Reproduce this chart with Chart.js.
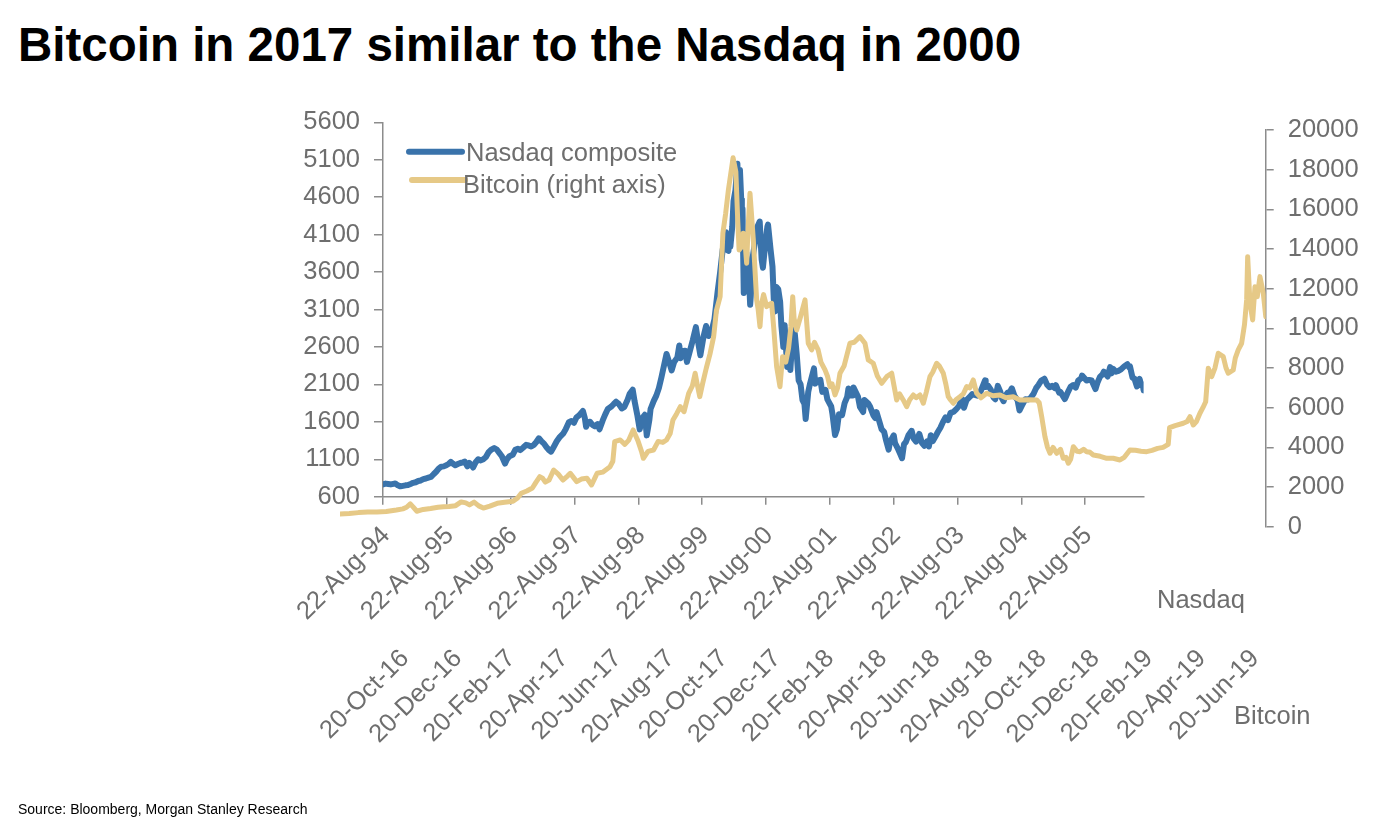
<!DOCTYPE html>
<html>
<head>
<meta charset="utf-8">
<script src="https://cdn.jsdelivr.net/npm/chart.js@4.4.1/dist/chart.umd.min.js"></script>
<style>
html,body{margin:0;padding:0;background:#fff;}
#wrap{position:relative;width:1400px;height:819px;overflow:hidden;font-family:"Liberation Sans",Arial,Helvetica,sans-serif;}
canvas{position:absolute;left:0;top:0;}
#title{position:absolute;left:18px;top:21px;font-weight:bold;font-size:47.5px;line-height:47.5px;color:#000;white-space:nowrap;}
.axlab{position:absolute;font-size:25.5px;line-height:25.5px;color:#6e6e6e;white-space:nowrap;}
#source{position:absolute;left:18px;top:802px;font-size:14px;line-height:14px;color:#000;white-space:nowrap;}
</style>
</head>
<body>
<div id="wrap">
  <div id="title">Bitcoin in 2017 similar to the Nasdaq in 2000</div>
  <canvas id="cNasdaq" width="1400" height="819" style="width:1400px;height:819px"></canvas>
  <canvas id="cBitcoin" width="1400" height="819" style="width:1400px;height:819px"></canvas>
  <div class="axlab" style="left:1157px;top:587px">Nasdaq</div>
  <div class="axlab" style="left:1234px;top:703px">Bitcoin</div>
  <div id="source">Source: Bloomberg, Morgan Stanley Research</div>
</div>
<script>
// ---------------- DATA ----------------
// Nasdaq composite: date as decimal year, index level
const nasdaqDates = [
1994.64,1994.68,1994.72,1994.76,1994.80,1994.83,1994.87,1994.91,1994.95,1994.99,
1995.03,1995.07,1995.11,1995.15,1995.19,1995.23,1995.27,1995.31,1995.35,1995.39,
1995.43,1995.47,1995.51,1995.55,1995.59,1995.63,1995.67,1995.70,1995.73,1995.77,
1995.81,1995.85,1995.89,1995.92,1995.96,1995.99,1996.03,1996.05,1996.09,1996.13,
1996.17,1996.21,1996.25,1996.29,1996.33,1996.38,1996.42,1996.46,1996.50,1996.55,
1996.58,1996.62,1996.67,1996.71,1996.75,1996.79,1996.84,1996.88,1996.92,1996.96,
1997.00,1997.04,1997.08,1997.12,1997.16,1997.20,1997.24,1997.27,1997.31,1997.36,
1997.41,1997.46,1997.50,1997.55,1997.59,1997.63,1997.67,1997.71,1997.77,1997.80,
1997.82,1997.85,1997.88,1997.92,1997.96,1998.00,1998.03,1998.08,1998.12,1998.16,
1998.21,1998.25,1998.29,1998.33,1998.38,1998.42,1998.47,1998.50,1998.55,1998.58,
1998.62,1998.66,1998.70,1998.74,1998.77,1998.81,1998.83,1998.88,1998.92,1998.96,
1999.00,1999.04,1999.08,1999.12,1999.16,1999.20,1999.25,1999.28,1999.30,1999.33,
1999.37,1999.40,1999.45,1999.49,1999.54,1999.58,1999.61,1999.66,1999.70,1999.74,
1999.78,1999.83,1999.88,1999.92,1999.96,2000.00,2000.01,2000.02,2000.05,2000.07,
2000.08,2000.11,2000.13,2000.16,2000.19,2000.21,2000.23,2000.25,2000.26,2000.27,
2000.29,2000.30,2000.33,2000.35,2000.37,2000.39,2000.41,2000.43,2000.46,2000.50,
2000.54,2000.57,2000.59,2000.63,2000.66,2000.67,2000.71,2000.74,2000.76,2000.78,
2000.80,2000.83,2000.86,2000.88,2000.91,2000.93,2000.97,2001.00,2001.02,2001.05,
2001.07,2001.09,2001.12,2001.15,2001.18,2001.21,2001.24,2001.26,2001.30,2001.33,
2001.39,2001.41,2001.44,2001.49,2001.52,2001.57,2001.60,2001.66,2001.68,2001.72,
2001.75,2001.78,2001.83,2001.87,2001.91,2001.93,2001.96,2002.00,2002.01,2002.08,
2002.11,2002.16,2002.18,2002.24,2002.27,2002.32,2002.35,2002.37,2002.41,2002.45,
2002.49,2002.52,2002.56,2002.58,2002.64,2002.66,2002.70,2002.74,2002.77,2002.80,
2002.83,2002.87,2002.92,2002.95,2002.99,2003.04,2003.08,2003.12,2003.16,2003.19,
2003.22,2003.25,2003.29,2003.33,2003.37,2003.41,2003.45,2003.49,2003.53,2003.58,
2003.62,2003.66,2003.71,2003.74,2003.78,2003.83,2003.87,2003.91,2003.95,2004.00,
2004.07,2004.08,2004.12,2004.16,2004.20,2004.23,2004.25,2004.27,2004.31,2004.33,
2004.36,2004.39,2004.42,2004.46,2004.49,2004.53,2004.58,2004.61,2004.66,2004.70,
2004.74,2004.78,2004.83,2004.87,2004.91,2004.95,2005.00,2005.04,2005.08,2005.12,
2005.16,2005.18,2005.23,2005.25,2005.32,2005.33,2005.37,2005.41,2005.45,2005.49,
2005.53,2005.58,2005.59,2005.66,2005.70,2005.74,2005.80,2005.83,2005.87,2005.91,
2005.93,2005.99,2006.03,2006.05,2006.08,2006.12,2006.16,2006.20,2006.25,2006.30,
2006.33,2006.34,2006.38,2006.41,2006.45,2006.47,2006.49,2006.52,2006.54,2006.554
];
const nasdaqValues = [
765,775,770,764,772,777,752,738,745,752,
756,770,785,793,810,817,835,843,855,865,
900,933,975,1001,1005,1020,1040,1065,1044,1020,
1036,1050,1059,1069,1005,1052,1020,990,1060,1100,
1085,1101,1130,1191,1225,1250,1230,1185,1140,1042,
1100,1141,1160,1226,1240,1222,1260,1293,1285,1270,
1291,1330,1380,1340,1309,1260,1222,1201,1261,1340,
1400,1442,1500,1594,1610,1587,1660,1686,1745,1650,
1535,1594,1601,1560,1540,1570,1500,1619,1700,1771,
1800,1835,1868,1840,1779,1800,1895,1970,2028,1872,
1700,1499,1650,1694,1419,1620,1771,1880,1950,2050,
2193,2350,2506,2400,2288,2400,2461,2620,2450,2543,
2550,2400,2560,2686,2865,2638,2490,2739,2880,2746,
2790,2966,3336,3600,3900,4069,4131,3901,3882,4100,
3940,4210,4550,4697,5048,4580,4964,4573,4223,4446,
3321,3800,3861,3500,3550,3164,3401,3800,3966,4200,
4274,3767,3658,4000,4206,4234,3900,3673,3240,3074,
3400,3370,3200,2875,2598,2889,2333,2471,2292,2700,
2859,2773,2500,2152,2100,1890,1840,1639,2000,2116,
2313,2110,2150,2161,2000,2027,1900,1805,1700,1423,
1499,1700,1690,1850,1931,2046,1950,1950,2059,1934,
1800,1731,1890,1845,1800,1688,1650,1730,1616,1500,
1463,1350,1229,1328,1420,1315,1250,1172,1114,1300,
1330,1420,1480,1380,1336,1438,1321,1280,1337,1271,
1421,1341,1400,1464,1520,1596,1660,1623,1720,1735,
1770,1810,1905,1787,1890,1932,1970,1960,1950,2003,
2153,2066,2080,2030,1930,1902,1994,2080,2000,1920,
1876,1950,1987,2000,2048,1950,1887,1752,1838,1900,
1897,1915,1975,2050,2096,2150,2175,2100,2062,2080,
2052,2090,1990,1999,1904,1922,2000,2068,2090,2057,
2150,2185,2218,2152,2160,2152,2038,2120,2200,2233,
2270,2205,2331,2247,2306,2270,2281,2300,2340,2370,
2323,2342,2190,2179,2072,2140,2172,2090,2100,2020
];
// Bitcoin: day number in the series (day 0 = first observation), USD price
const btcDays = [
0,10,20,30,40,50,61,68,72,76,79,83,90,98,106,112,118,125,131,136,
140,145,150,155,162,170,178,187,192,196,202,208,212,216,219,222,226,231,236,241,
246,249,253,256,261,267,272,276,278,284,292,295,297,303,308,312,317,322,326,328,
333,339,344,349,353,357,360,364,368,372,377,381,384,387,389,392,396,400,404,407,
411,414,417,420,425,428,430,431.5,434.3,436,438,439.7,441,443.3,446.9,450.5,452,454.1,455.9,458,
461.3,464,466.7,469,472.1,475.7,478.5,482,485,487.5,489.5,491,493.8,498,502.8,506.3,510,513,517,520,
524.4,527,529.8,532,535.2,538,540.6,545,551.4,556,562.2,567.6,571.2,576.6,581,585.7,591.1,596.5,601.9,605,
609,612.7,616,619.9,623,627.1,630.7,634,637.9,641,645.1,648,652.3,655,657.7,660,663.1,666,670.3,674,
677.6,681,684.7,688.4,693,699.2,706,713.6,720,728,735.2,744,753.3,756,758.7,762.2,765,767.7,771,774.9,
779,782,785,787.5,790,792.9,797,800.1,804,807.3,811,814.5,822,829,836,843.3,848,854.1,860,866,
872.2,878,884,890,895.5,897,903,911.8,916,919,922.6,926,929.8,933,936,938.8,942.5,946,949.6,955,
958,960.4,965.8,968,971.2,974.9,978,980.3,981.4,983.9,986.8,989.3,991.8,994.7,998.3,1001
];
const btcValues = [
640,660,710,740,745,770,842,900,980,1150,1000,780,870,920,980,1009,1020,1060,1250,1200,
1100,1240,1050,940,1040,1180,1230,1280,1450,1684,1800,1950,2250,2522,2450,2250,2350,2859,2650,2355,
2550,2693,2450,2269,2400,2441,2103,2500,2693,2750,3026,3300,4287,4372,4150,4350,4877,4350,3800,3449,
3800,3868,4300,4250,4372,4700,5381,5700,6052,5800,6727,7100,7736,7000,6556,7200,7988,8700,9582,10900,
11600,14800,15800,17000,18600,17900,15500,13954,14120,14800,14300,13283,14800,16813,14458,11433,11000,10086,11266,11700,
11095,11200,11266,10000,8069,7060,8573,8300,9000,10086,11599,10500,9920,10600,11433,9249,8911,9300,8911,8300,
7903,7600,7060,7200,6642,7000,7736,8100,9249,9300,9582,9249,8407,8240,7600,7232,7565,7736,6390,6700,
6390,6052,6400,6642,6500,6642,6223,6800,7565,7800,8240,8100,7736,7200,6556,6400,6223,6400,6556,6700,
7060,7000,7398,6727,6500,6727,6600,6642,6500,6550,6390,6400,6390,6250,5547,4539,4000,3702,4000,3702,
3900,3449,3500,3197,3400,4034,3800,3782,3900,3782,3750,3616,3550,3449,3450,3364,3500,3868,3850,3800,
3782,3850,3950,4000,4150,5000,5100,5214,5300,5547,5129,5300,5719,6000,6300,7988,7565,8000,8745,8573,
8000,7736,7902,8500,8911,9249,10200,11433,13616,11266,10424,12103,11600,12608,11770,10590
];

// Axis ticks
const nasdaqTickYears  = [1994.638,1995.638,1996.638,1997.638,1998.638,1999.638,2000.638,2001.638,2002.638,2003.638,2004.638,2005.638];
const nasdaqTickLabels = ['22-Aug-94','22-Aug-95','22-Aug-96','22-Aug-97','22-Aug-98','22-Aug-99','22-Aug-00','22-Aug-01','22-Aug-02','22-Aug-03','22-Aug-04','22-Aug-05'];
const nasdaqYTicks = [600,1100,1600,2100,2600,3100,3600,4100,4600,5100,5600];

const btcTickDays = [68.1,125.6,183.0,240.4,297.9,355.3,412.7,470.2,527.6,585.1,642.5,699.9,757.4,814.8,872.3,929.7,987.2];
const btcTickLabels = ['20-Oct-16','20-Dec-16','20-Feb-17','20-Apr-17','20-Jun-17','20-Aug-17','20-Oct-17','20-Dec-17','20-Feb-18','20-Apr-18','20-Jun-18','20-Aug-18','20-Oct-18','20-Dec-18','20-Feb-19','20-Apr-19','20-Jun-19'];
const btcYTicks = [0,2000,4000,6000,8000,10000,12000,14000,16000,18000,20000];

// ---------------- STYLE ----------------
const BLUE = '#3a73ab';
const TAN = '#e6c987';
const TEXT = '#6e6e6e';
const AXIS = '#8c8c8c';
const FONT = '"Liberation Sans", Arial, Helvetica, sans-serif';
const W = 1400, H = 819;

const legendEntry = {
  id: 'legendEntry',
  afterDraw(chart, args, o) {
    const ds = chart.data.datasets[0];
    const ctx = chart.ctx;
    ctx.save();
    ctx.strokeStyle = ds.borderColor;
    ctx.lineWidth = o.lineWidth;
    ctx.lineCap = 'round';
    ctx.beginPath();
    ctx.moveTo(o.x1, o.y);
    ctx.lineTo(o.x2, o.y);
    ctx.stroke();
    ctx.fillStyle = TEXT;
    ctx.font = '25.5px ' + FONT;
    ctx.textBaseline = 'alphabetic';
    ctx.textAlign = 'left';
    ctx.fillText(ds.label, o.textX, o.textY);
    ctx.restore();
  }
};

const tickFont = {family: FONT, size: 25.5};

// ---------------- NASDAQ CHART ----------------
new Chart(document.getElementById('cNasdaq'), {
  type: 'line',
  data: {
    datasets: [{
      label: 'Nasdaq composite',
      data: nasdaqDates.map((d, i) => ({x: d, y: nasdaqValues[i]})),
      borderColor: BLUE,
      borderWidth: 6,
      pointRadius: 0,
      tension: 0,
      borderJoinStyle: 'round',
      borderCapStyle: 'round'
    }]
  },
  options: {
    responsive: false,
    animation: false,
    devicePixelRatio: 1,
    layout: {padding: {left: 0, right: 256.4, top: 122.3, bottom: 0}},
    plugins: {
      legend: {display: false},
      tooltip: {enabled: false},
      legendEntry: {x1: 409, x2: 462, y: 151.7, lineWidth: 6, textX: 466, textY: 160.5}
    },
    scales: {
      x: {
        type: 'linear', position: 'bottom', bounds: 'data',
        min: 1994.638, max: 2006.554,
        afterBuildTicks: s => { s.ticks = nasdaqTickYears.map(v => ({value: v})); },
        afterFit: s => { s.height = H - 496.7; },
        ticks: {autoSkip: false, minRotation: 45, maxRotation: 45, padding: 16, labelOffset: 3, color: TEXT, font: tickFont,
                callback: (v, i) => nasdaqTickLabels[i]},
        grid: {drawOnChartArea: false, drawTicks: true, tickLength: 8, color: AXIS, lineWidth: 1.5},
        border: {display: true, color: AXIS, width: 1.5}
      },
      y: {
        type: 'linear', position: 'left', bounds: 'data',
        min: 600, max: 5600,
        afterBuildTicks: s => { s.ticks = nasdaqYTicks.map(v => ({value: v})); },
        afterFit: s => { s.width = 383; },
        ticks: {padding: 14, color: TEXT, font: tickFont, callback: v => String(v)},
        grid: {drawOnChartArea: false, drawTicks: true, tickLength: 9, color: AXIS, lineWidth: 1.5},
        border: {display: true, color: AXIS, width: 1.5}
      }
    }
  },
  plugins: [legendEntry]
});

// ---------------- BITCOIN CHART ----------------
new Chart(document.getElementById('cBitcoin'), {
  type: 'line',
  data: {
    datasets: [{
      label: 'Bitcoin (right axis)',
      data: btcDays.map((d, i) => ({x: d, y: btcValues[i]})),
      borderColor: TAN,
      borderWidth: 5,
      pointRadius: 0,
      tension: 0,
      borderJoinStyle: 'round',
      borderCapStyle: 'round'
    }]
  },
  options: {
    responsive: false,
    animation: false,
    devicePixelRatio: 1,
    layout: {padding: {left: 340, right: 0, top: 130, bottom: 0}},
    plugins: {
      legend: {display: false},
      tooltip: {enabled: false},
      legendEntry: {x1: 412, x2: 465, y: 180, lineWidth: 6, textX: 463, textY: 193.3}
    },
    scales: {
      x: {
        type: 'linear', position: 'bottom', bounds: 'data',
        min: 0, max: 1000.9,
        afterBuildTicks: s => { s.ticks = btcTickDays.map(v => ({value: v})); },
        afterFit: s => { s.height = H - 526.7; },
        ticks: {autoSkip: false, minRotation: 45, maxRotation: 45, padding: 117, labelOffset: 2, color: TEXT, font: tickFont,
                callback: (v, i) => btcTickLabels[i]},
        grid: {display: false, drawTicks: false, drawOnChartArea: false},
        border: {display: false}
      },
      y: {
        type: 'linear', position: 'right', bounds: 'data',
        min: 0, max: 20000,
        afterBuildTicks: s => { s.ticks = btcYTicks.map(v => ({value: v})); },
        afterFit: s => { s.width = W - 1265.7; },
        ticks: {padding: 14, color: TEXT, font: tickFont, callback: v => String(v)},
        grid: {drawOnChartArea: false, drawTicks: true, tickLength: 8, color: AXIS, lineWidth: 1.5},
        border: {display: true, color: AXIS, width: 1.5}
      }
    }
  },
  plugins: [legendEntry]
});
</script>
</body>
</html>
